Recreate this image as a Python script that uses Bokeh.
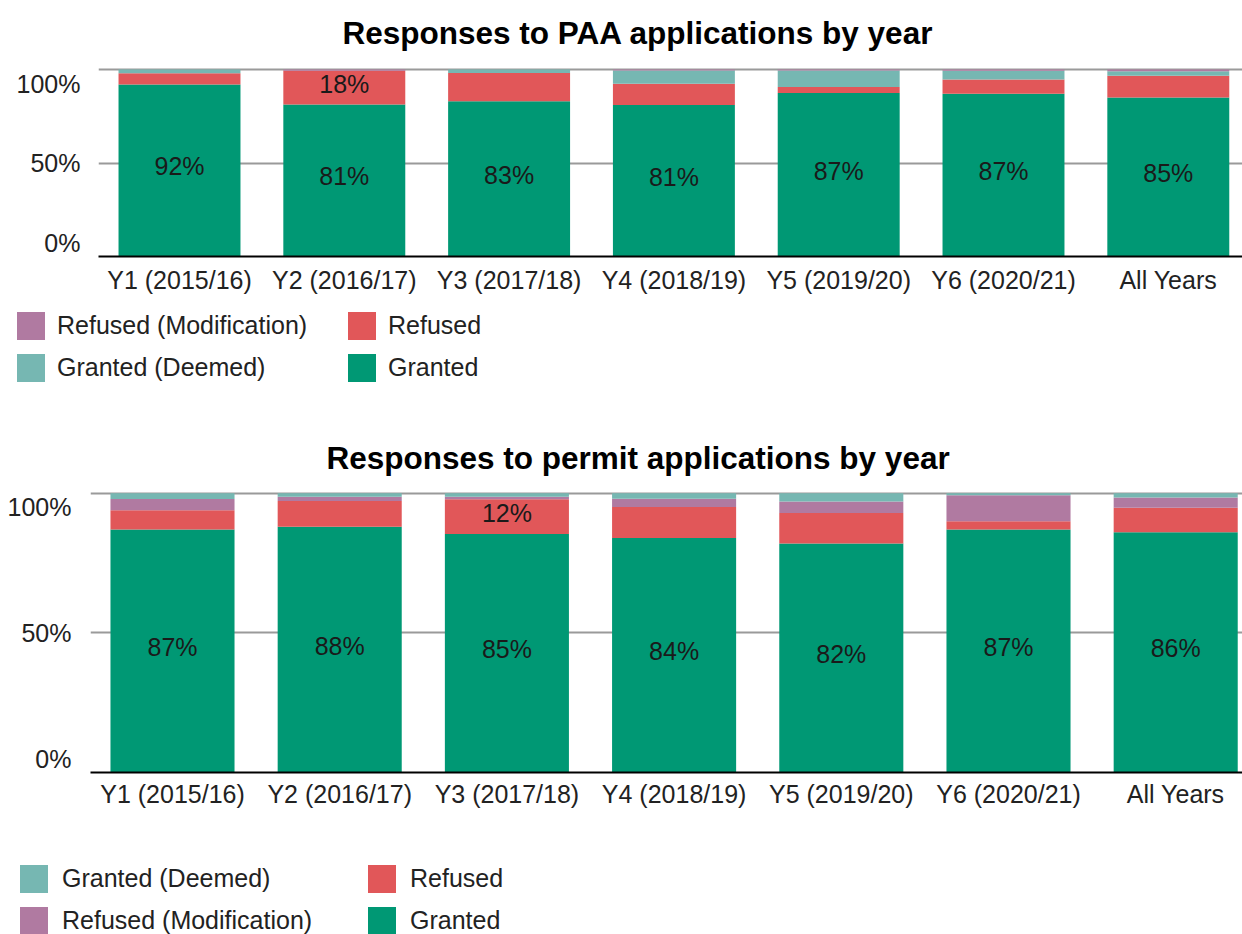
from bokeh.plotting import figure
from bokeh.models import Range1d, FixedTicker, Legend, LegendItem, ColumnDataSource
from bokeh.embed import file_html
from bokeh.resources import INLINE
from bokeh.core.properties import value

# ---------------- data ----------------
categories = ["Y1 (2015/16)", "Y2 (2016/17)", "Y3 (2017/18)", "Y4 (2018/19)",
              "Y5 (2019/20)", "Y6 (2020/21)", "All Years"]

# PAA applications (% of responses)
paa_granted = [92.0, 81.3, 83.0, 81.0, 87.4, 87.0, 85.0]
paa_refused = [6.0, 18.0, 15.1, 11.4, 3.3, 7.7, 11.7]
paa_deemed = [2.0, 0.0, 1.9, 7.1, 8.8, 4.6, 2.3]
paa_modification = [0.0, 0.7, 0.0, 0.5, 0.5, 0.7, 1.0]

# Permit applications (% of responses)
permit_granted = [87.0, 88.0, 85.4, 84.0, 82.0, 87.0, 86.0]
permit_refused = [6.9, 9.2, 12.4, 11.1, 10.9, 3.0, 8.8]
permit_modification = [4.0, 1.5, 0.9, 2.9, 4.1, 9.3, 3.7]
permit_deemed = [2.1, 1.3, 1.3, 2.0, 3.0, 0.7, 1.5]

y_ticks = [0, 50, 100]

# ---------------- style ----------------
FONT = "Liberation Sans"
TXT = "#222222"
FS = "25px"
COLORS = {
    "Granted": "#009874",
    "Refused": "#e15759",
    "Granted (Deemed)": "#76b7b2",
    "Refused (Modification)": "#b07aa1",
}
W = 1242


def make_source(series):
    data = {"x": list(range(len(categories)))}
    for n, vals in series:
        data[n] = vals
    return ColumnDataSource(data)


def build(title, series, *, height, left, bottom, plot_top, first_center_px,
          step_px, bar_w, title_left, title_mid, ylabel_standoff,
          xlabel_standoff):
    # the frame reaches the top of the figure; the 0-100 % band starts at plot_top
    frame_w = W - left
    frame_h = height - bottom
    px_per_unit = (frame_h - plot_top) / 100.0
    y_end = 100 + plot_top / px_per_unit
    x0 = -first_center_px / step_px
    x1 = x0 + frame_w / step_px

    p = figure(width=W, height=height, output_backend="svg",
               toolbar_location=None, x_range=Range1d(x0, x1),
               y_range=Range1d(0, y_end),
               min_border_left=left, min_border_right=0,
               min_border_top=0, min_border_bottom=bottom)
    p.outline_line_color = None
    p.background_fill_color = "white"
    p.border_fill_color = "white"

    names = [n for n, _ in series]
    src = make_source(series)
    xs = src.data["x"]
    p.vbar_stack(names, x="x", width=bar_w, source=src,
                 color=[COLORS[n] for n in names], line_color=None)

    # grid
    p.xgrid.visible = False
    p.ygrid.ticker = FixedTicker(ticks=[t for t in y_ticks if t > 0])
    p.ygrid.grid_line_color = "#9a9a9a"
    p.ygrid.grid_line_width = 2
    p.ygrid.level = "underlay"

    # x axis
    p.xaxis.ticker = FixedTicker(ticks=xs)
    p.xaxis.major_label_overrides = {i: c for i, c in enumerate(categories)}
    p.xaxis.major_tick_line_color = None
    p.xaxis.minor_tick_line_color = None
    p.xaxis.axis_line_color = "#000000"
    p.xaxis.axis_line_width = 2
    p.xaxis.major_label_text_font = FONT
    p.xaxis.major_label_text_font_size = FS
    p.xaxis.major_label_text_color = TXT
    p.xaxis.major_label_standoff = xlabel_standoff

    # y axis (end labels kept inside the chart area, as in the original)
    off = 14.0 / px_per_unit
    pos = []
    over = {}
    for t in y_ticks:
        q = t + off if t == 0 else (t - off if t == 100 else t)
        pos.append(q)
        over[q] = f"{t}%"
    p.yaxis.ticker = FixedTicker(ticks=pos)
    p.yaxis.major_label_overrides = over
    p.yaxis.axis_line_color = None
    p.yaxis.major_tick_line_color = None
    p.yaxis.minor_tick_line_color = None
    p.yaxis.major_label_text_font = FONT
    p.yaxis.major_label_text_font_size = FS
    p.yaxis.major_label_text_color = TXT
    p.yaxis.major_label_standoff = ylabel_standoff

    # data labels: granted always, refused where the segment is tall enough
    lx, ly, lt = [], [], []
    granted = dict(series)["Granted"]
    refused = dict(series)["Refused"]
    for i in xs:
        lx.append(i)
        ly.append(granted[i] / 2.0)
        lt.append(f"{round(granted[i])}%")
        if refused[i] * px_per_unit >= 32:
            lx.append(i)
            ly.append(granted[i] + refused[i] / 2.0)
            lt.append(f"{round(refused[i])}%")
    p.text(x=lx, y=ly, text=lt, text_font=value(FONT), text_font_size=FS,
           text_color="#1a1a1a", text_align="center", text_baseline="middle",
           y_offset=-4)

    # chart title
    tx = x0 + (title_left - left) / step_px
    ty = 100 + (plot_top - title_mid) / px_per_unit
    p.text(x=[tx], y=[ty], text=[title], text_font=value(FONT),
           text_font_size="31.5px", text_font_style="bold", text_color="#000000",
           text_align="left", text_baseline="middle")
    return p


def legend_panel(series, order, *, height, xy, label_standoff, label_width):
    lp = figure(width=W, height=height, output_backend="svg",
                toolbar_location=None, x_axis_type=None, y_axis_type=None,
                min_border_left=0, min_border_right=0,
                min_border_top=0, min_border_bottom=0)
    lp.outline_line_color = None
    lp.xgrid.visible = False
    lp.ygrid.visible = False
    names = [n for n, _ in series]
    src = make_source(series)
    rs = lp.vbar_stack(names, x="x", width=0.7, source=src,
                       color=[COLORS[n] for n in names], line_color=None)
    for r in rs:
        r.visible = False  # only the legend is shown in this panel
    rmap = dict(zip(names, rs))
    legend = Legend(
        items=[LegendItem(label=n, renderers=[rmap[n]]) for n in order],
        location=xy, orientation="vertical", ncols=2,
        glyph_width=35, glyph_height=35, label_standoff=label_standoff,
        label_width=label_width, label_height=28, spacing=7,
        padding=0, margin=0, border_line_color=None,
        background_fill_alpha=0, label_text_font=FONT,
        label_text_font_size=FS, label_text_color=TXT)
    lp.add_layout(legend, "center")
    return lp


paa_series = [("Granted", paa_granted), ("Refused", paa_refused),
              ("Granted (Deemed)", paa_deemed),
              ("Refused (Modification)", paa_modification)]
permit_series = [("Granted", permit_granted), ("Refused", permit_refused),
                 ("Refused (Modification)", permit_modification),
                 ("Granted (Deemed)", permit_deemed)]

p1 = build(
    "Responses to PAA applications by year", paa_series,
    height=300, left=98, bottom=44, plot_top=69,
    first_center_px=81, step_px=164.8, bar_w=0.74,
    title_left=342, title_mid=32, ylabel_standoff=12, xlabel_standoff=3)

l1 = legend_panel(paa_series,
                  ["Refused (Modification)", "Granted (Deemed)", "Refused", "Granted"],
                  height=100, xy=(13, 15), label_standoff=9, label_width=280)

p2 = build(
    "Responses to permit applications by year", permit_series,
    height=410, left=90, bottom=38, plot_top=92.7,
    first_center_px=82, step_px=167.2, bar_w=0.742,
    title_left=326, title_mid=57, ylabel_standoff=13, xlabel_standoff=1)

l2 = legend_panel(permit_series,
                  ["Granted (Deemed)", "Refused (Modification)", "Refused", "Granted"],
                  height=124, xy=(16, -4), label_standoff=11, label_width=295)

open("out.html", "w").write(file_html([p1, l1, p2, l2], INLINE))
